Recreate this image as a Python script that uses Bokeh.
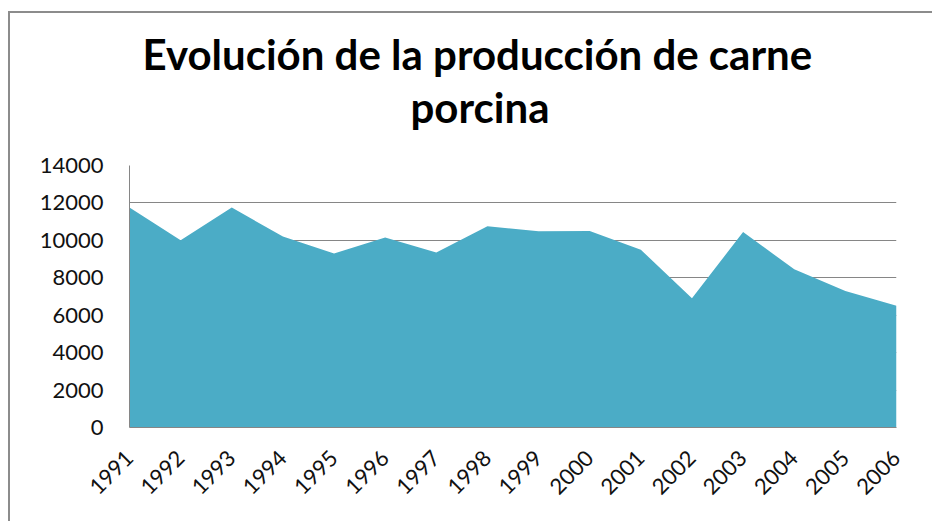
from math import pi
from bokeh.plotting import figure
from bokeh.models import Title, FixedTicker, Range1d, ColumnDataSource
from bokeh.embed import file_html
from bokeh.resources import INLINE

# ---- data ----
years = [1991, 1992, 1993, 1994, 1995, 1996, 1997, 1998,
         1999, 2000, 2001, 2002, 2003, 2004, 2005, 2006]
production = [11750, 10000, 11750, 10200, 9300, 10150, 9350, 10750,
              10480, 10500, 9500, 6900, 10450, 8450, 7300, 6500]
y_ticks = [0, 2000, 4000, 6000, 8000, 10000, 12000, 14000]
title_line1 = "Evolución de la producción de carne"
title_line2 = "porcina"

src = ColumnDataSource(data=dict(year=years, prod=production))

p = figure(width=924, height=510, output_backend="svg", toolbar_location=None,
           title=None,
           x_range=Range1d(years[0], years[-1]), y_range=Range1d(0, y_ticks[-1]),
           min_border_left=119, min_border_right=38, min_border_top=152, min_border_bottom=96,
           styles={"border-top": "2px solid #8c8c8c", "border-left": "2px solid #8c8c8c",
                   "margin-left": "8px", "margin-top": "11px"})

p.outline_line_color = None
p.background_fill_color = "white"
p.border_fill_color = "white"

p.varea(x="year", y1=0, y2="prod", source=src, fill_color="#4BACC6")

# titles (two lines, centred on the chart area)
t2 = Title(text=title_line2, align="left", offset=281, vertical_align="bottom",
           text_font="Lato", text_font_size="42px",
           text_font_style="bold", text_color="#000000", standoff=68)
t1 = Title(text=title_line1, align="left", offset=13, vertical_align="bottom",
           text_font="Lato", text_font_size="42px",
           text_font_style="bold", text_color="#000000", standoff=-66)
p.add_layout(t2, "above")
p.add_layout(t1, "above")

# axes
p.xaxis.ticker = FixedTicker(ticks=years)
p.yaxis.ticker = FixedTicker(ticks=y_ticks)
for ax in (p.xaxis[0], p.yaxis[0]):
    ax.axis_line_color = "#868686"
    ax.axis_line_width = 1
    ax.major_tick_line_color = None
    ax.minor_tick_line_color = None
    ax.major_label_text_font = "Lato"
    ax.major_label_text_font_size = "22px"
    ax.major_label_text_color = "#111111"
p.xaxis.major_label_orientation = pi / 4
p.xaxis.major_label_standoff = 21
p.yaxis.major_label_standoff = 20

p.xgrid.grid_line_color = None
p.ygrid.grid_line_color = "#868686"
p.ygrid.grid_line_width = 1

open("out.html", "w").write(file_html(p, INLINE))
